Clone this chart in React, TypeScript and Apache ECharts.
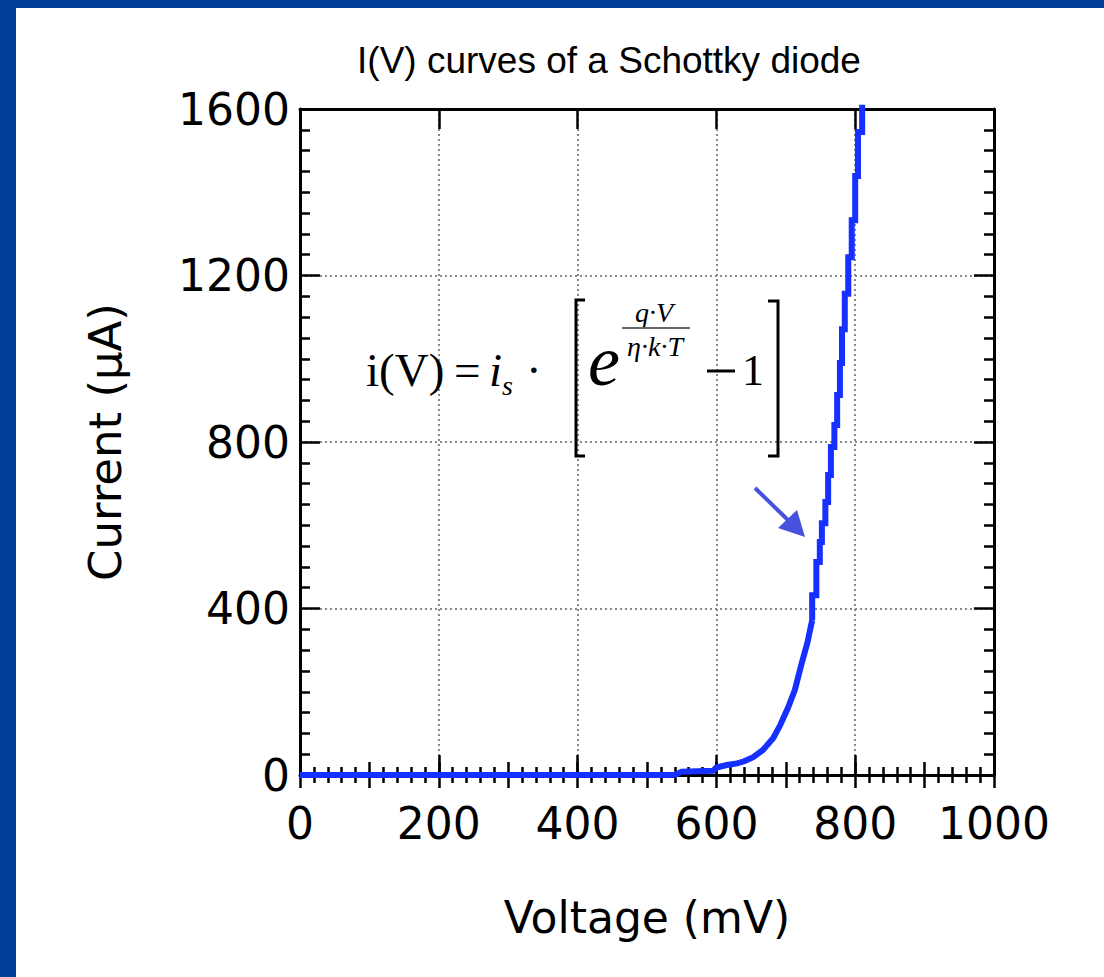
import React, { useEffect, useRef } from "react";
import * as echarts from "echarts";

const chartTitle = "I(V) curves of a Schottky diode";
const xAxisName = "Voltage (mV)";
const yAxisName = "Current (\u03bcA)";
const xTicks = [0, 200, 400, 600, 800, 1000];
const yTicks = [0, 400, 800, 1200, 1600];

// Voltage (mV) and current (µA) — lower, smooth part of the trace
const voltageLow = [0, 100, 200, 300, 400, 500, 540, 550, 595, 600, 615, 630, 640, 653, 667, 682, 692, 703, 713, 723, 731, 738];
const currentLow = [0, 0, 0, 0, 0, 0, 0, 8, 10, 18, 24, 28, 33, 43, 60, 89, 120, 161, 204, 269, 317, 372];
// steep part of the trace, where the recorded curve shows discrete voltage steps
const voltageHigh = [738, 744, 749, 752, 757, 761, 765, 770, 774, 778, 781, 785, 790, 795, 800, 804, 810, 811];
const currentHigh = [372, 432, 512, 560, 605, 656, 721, 788, 841, 913, 990, 1071, 1156, 1244, 1333, 1439, 1545, 1610];

const comic = "'Comic Sans MS', 'DejaVu Sans', sans-serif";
const serif = "'Liberation Serif', 'Times New Roman', serif";

export default function App() {
  const ref = useRef<HTMLDivElement>(null);
  useEffect(() => {
    document.documentElement.style.background = "#fff";
    document.body.style.background = "#fff";
    document.body.style.margin = "0";
    document.body.style.overflow = "hidden";
    if (!ref.current) return;
    const chart = echarts.init(ref.current, null, { renderer: "svg" });
    const xMin = xTicks[0], xMax = xTicks[xTicks.length - 1];
    const yMin = yTicks[0], yMax = yTicks[yTicks.length - 1];
    const black = "#000";
    const axisLine = { show: true, onZero: false, lineStyle: { color: black, width: 3 } };
    const grid = { type: [2, 3], color: "#888", width: 2 };
    const xMain = (pos: string, labels: boolean) => ({
      type: "value", position: pos, min: xMin, max: xMax, interval: 200,
      axisLine,
      axisTick: { show: true, inside: true, length: 20, lineStyle: { color: black, width: 2.5 } },
      minorTick: { show: false },
      splitLine: { show: labels, lineStyle: grid },
      axisLabel: labels
        ? { show: true, margin: 26, fontSize: 44, fontFamily: comic, color: black, formatter: (v: number) => String(v) }
        : { show: false },
      ...(labels
        ? { name: xAxisName, nameLocation: "middle", nameGap: 120, nameTextStyle: { fontSize: 44, fontFamily: comic, color: black } }
        : {}),
    });
    const xSecondary = (pos: string) => ({
      type: "value", position: pos, min: xMin, max: xMax, interval: 100,
      axisLine: { show: false },
      axisTick: { show: true, inside: true, length: 13, lineStyle: { color: black, width: 2.5 } },
      minorTick: { show: true, splitNumber: 5, length: 8, lineStyle: { color: black, width: 2.5 } },
      splitLine: { show: false },
      axisLabel: { show: false },
    });
    const yMain = (pos: string, labels: boolean) => ({
      type: "value", position: pos, min: yMin, max: yMax, interval: 400,
      axisLine,
      axisTick: { show: true, inside: true, length: 20, lineStyle: { color: black, width: 2.5 } },
      minorTick: { show: true, splitNumber: 8, length: 10, lineStyle: { color: black, width: 2.5 } },
      splitLine: { show: labels, lineStyle: grid },
      axisLabel: labels
        ? { show: true, margin: 10, fontSize: 44, fontFamily: comic, color: black, formatter: (v: number) => String(v) }
        : { show: false },
      ...(labels
        ? { name: yAxisName, nameLocation: "middle", nameGap: 172, nameTextStyle: { fontSize: 45, fontFamily: comic, color: black } }
        : {}),
    });

    const blueLine = "#1530ff";
    const arrowColor = "#4651dd";
    const Z = 100;
    const lineSeries = (xs: number[], ys: number[], step: any) => ({
      type: "line", xAxisIndex: 0, yAxisIndex: 0, showSymbol: false, clip: false, z: 5, step,
      data: xs.map((v, i) => [v, ys[i]]),
      lineStyle: { color: blueLine, width: 6, join: "miter" },
      itemStyle: { color: blueLine },
    });

    chart.setOption({
      animation: false,
      title: {
        text: chartTitle, left: 604, top: 37, textAlign: "center",
        textStyle: { fontFamily: "'Liberation Sans', Arial, sans-serif", fontSize: 37, fontWeight: "normal", color: black },
      },
      grid: { left: 300, right: 110, top: 109, bottom: 202, containLabel: false },
      xAxis: [xMain("bottom", true), xMain("top", false), xSecondary("bottom"), xSecondary("top")],
      yAxis: [yMain("left", true), yMain("right", false)],
      series: [
        lineSeries(voltageLow, currentLow, false),
        lineSeries(voltageHigh, currentHigh, "start"),
      ],
      graphic: [
        // formula
        { type: "text", x: 366, y: 370, z: Z, style: { text: "i(V)", font: `47px ${serif}`, fill: black, textVerticalAlign: "middle" } },
        { type: "text", x: 454, y: 370, z: Z, style: { text: "=", font: `47px ${serif}`, fill: black, textVerticalAlign: "middle" } },
        { type: "text", x: 489, y: 370, z: Z, style: { text: "i", font: `italic 47px ${serif}`, fill: black, textVerticalAlign: "middle" } },
        { type: "text", x: 502, y: 385, z: Z, style: { text: "s", font: `italic 28px ${serif}`, fill: black, textVerticalAlign: "middle" } },
        { type: "text", x: 526, y: 370, z: Z, style: { text: "\u00b7", font: `47px ${serif}`, fill: black, textVerticalAlign: "middle" } },
        { type: "polyline", z: Z, shape: { points: [[585, 300], [576, 300], [576, 456], [585, 456]] }, style: { stroke: black, lineWidth: 3, fill: null } },
        { type: "text", x: 588, y: 361, z: Z, style: { text: "e", font: `italic 72px ${serif}`, fill: black, textVerticalAlign: "middle" } },
        { type: "text", x: 654, y: 312, z: Z, style: { text: "q\u00b7V", font: `italic 28px ${serif}`, fill: black, textAlign: "center", textVerticalAlign: "middle" } },
        { type: "line", z: Z, shape: { x1: 622, y1: 328, x2: 690, y2: 328 }, style: { stroke: "#666", lineWidth: 2 } },
        { type: "text", x: 655, y: 346, z: Z, style: { text: "\u03b7\u00b7k\u00b7T", font: `italic 28px ${serif}`, fill: black, textAlign: "center", textVerticalAlign: "middle" } },
        { type: "line", z: Z, shape: { x1: 707, y1: 371, x2: 735, y2: 371 }, style: { stroke: black, lineWidth: 3 } },
        { type: "text", x: 742, y: 370, z: Z, style: { text: "1", font: `44px ${serif}`, fill: black, textVerticalAlign: "middle" } },
        { type: "polyline", z: Z, shape: { points: [[768, 301], [778, 301], [778, 456], [768, 456]] }, style: { stroke: black, lineWidth: 3, fill: null } },
        // arrow
        { type: "line", z: Z, shape: { x1: 755, y1: 488, x2: 790, y2: 522 }, style: { stroke: arrowColor, lineWidth: 4 } },
        { type: "polygon", z: Z, shape: { points: [[778, 528], [797, 510], [805, 537]] }, style: { fill: arrowColor } },
      ],
    });
    return () => chart.dispose();
  }, []);
  return (
    <div style={{ position: "fixed", left: 0, top: 0, width: 1104, height: 977, background: "#fff", overflow: "hidden" }}>
      <div style={{ position: "absolute", left: 0, top: 0, width: 1104, height: 8, background: "#003f99" }} />
      <div style={{ position: "absolute", left: 0, top: 0, width: 16, height: 977, background: "#003f99" }} />
      <div ref={ref} style={{ position: "absolute", left: 0, top: 0, width: 1104, height: 977 }} />
      <div style={{ position: "absolute", left: 1060, top: 8, width: 44, height: 969, background: "#fff", zIndex: 10 }} />
    </div>
  );
}
